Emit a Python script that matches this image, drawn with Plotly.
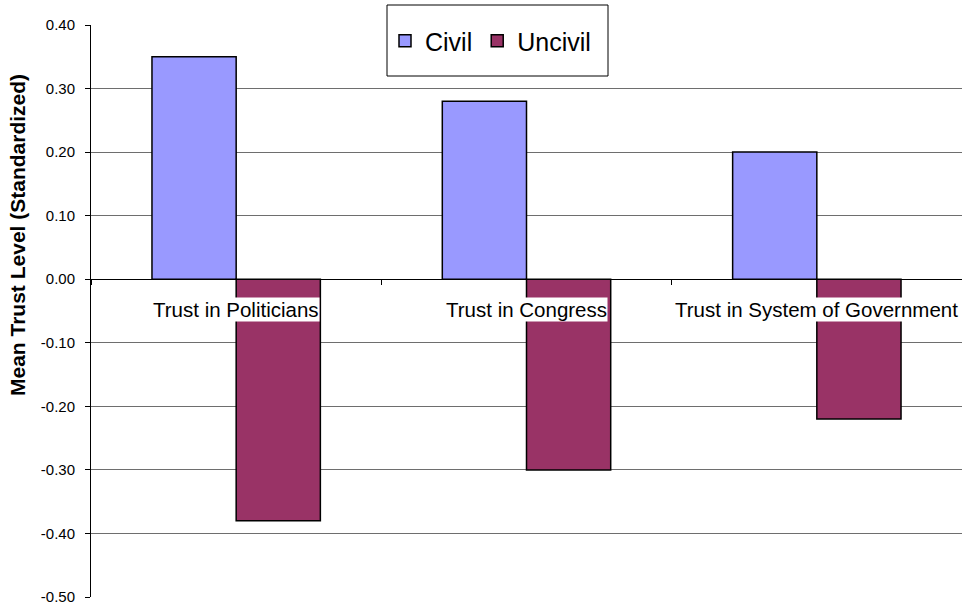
import plotly.graph_objects as go

categories = ["Trust in Politicians", "Trust in Congress", "Trust in System of Government"]
civil = [0.35, 0.28, 0.20]
uncivil = [-0.38, -0.30, -0.22]
y_ticks = [0.40, 0.30, 0.20, 0.10, 0.00, -0.10, -0.20, -0.30, -0.40, -0.50]
y_tick_text = [f"{v:.2f}" for v in y_ticks]
y_title = "Mean Trust Level (Standardized)"

FONT = "Liberation Sans, Arial, sans-serif"

W, H = 962, 608
L, R, T, B = 91, 0, 25, 11
PW, PH = W - L - R, H - T - B


def px_x(sx):
    return (sx - L) / PW


def px_y(sy):
    return (H - B - sy) / PH


fig = go.Figure()
fig.add_trace(go.Bar(x=categories, y=civil, name="Civil",
                     marker=dict(color="#9999FF", line=dict(color="black", width=1.5))))
fig.add_trace(go.Bar(x=categories, y=uncivil, name="Uncivil",
                     marker=dict(color="#993366", line=dict(color="black", width=1.5))))

ymin, ymax = -0.5, 0.4
zero_pos = (0 - ymin) / (ymax - ymin)

for c in categories:
    fig.add_annotation(x=c, y=0, xref="x", yref="y", text=c, showarrow=False,
                       yshift=-30, yanchor="middle", bgcolor="white", borderpad=0,
                       font=dict(family=FONT, size=20.5, color="black"))

# y-axis title
fig.add_annotation(x=px_x(18), y=px_y(235), xref="paper", yref="paper",
                   text="<b>" + y_title + "</b>", textangle=-90, showarrow=False,
                   xanchor="center", yanchor="middle",
                   font=dict(family=FONT, size=21, color="black"))

# legend box
fig.add_shape(type="rect", xref="paper", yref="paper",
              x0=px_x(387), x1=px_x(608), y0=px_y(76), y1=px_y(5),
              fillcolor="white", line=dict(color="black", width=1), layer="above")

fig.update_layout(
    width=W, height=H,
    margin=dict(l=L, r=R, t=T, b=B, autoexpand=False),
    paper_bgcolor="white", plot_bgcolor="white",
    barmode="group", bargap=0.42, bargroupgap=0,
    font=dict(family=FONT, size=15, color="black"),
    showlegend=True,
    legend=dict(orientation="h", x=px_x(385), y=px_y(41),
                xanchor="left", yanchor="middle",
                bgcolor="rgba(0,0,0,0)", borderwidth=0,
                font=dict(family=FONT, size=25, color="black"),
                itemwidth=30),
    xaxis=dict(type="category", anchor="free", position=zero_pos,
               showline=True, linecolor="black", linewidth=1,
               ticks="outside", tickson="boundaries", ticklen=5, tickcolor="black",
               showticklabels=False, showgrid=False, zeroline=False,
               range=[-0.5, 2.5], automargin=False),
    yaxis=dict(range=[ymin, ymax], tickmode="array", tickvals=y_ticks, ticktext=y_tick_text,
               showline=True, linecolor="black", linewidth=1,
               ticks="outside", ticklen=5, tickcolor="black", ticklabelstandoff=7,
               showgrid=True, gridcolor="#6e6e6e", gridwidth=1,
               zeroline=True, zerolinecolor="black", zerolinewidth=1,
               tickfont=dict(family=FONT, size=15, color="black"),
               automargin=False),
)

fig.write_html("out.html", config={"displayModeBar": False},
               post_script="document.body.style.margin='0';document.body.style.overflow='hidden';")
